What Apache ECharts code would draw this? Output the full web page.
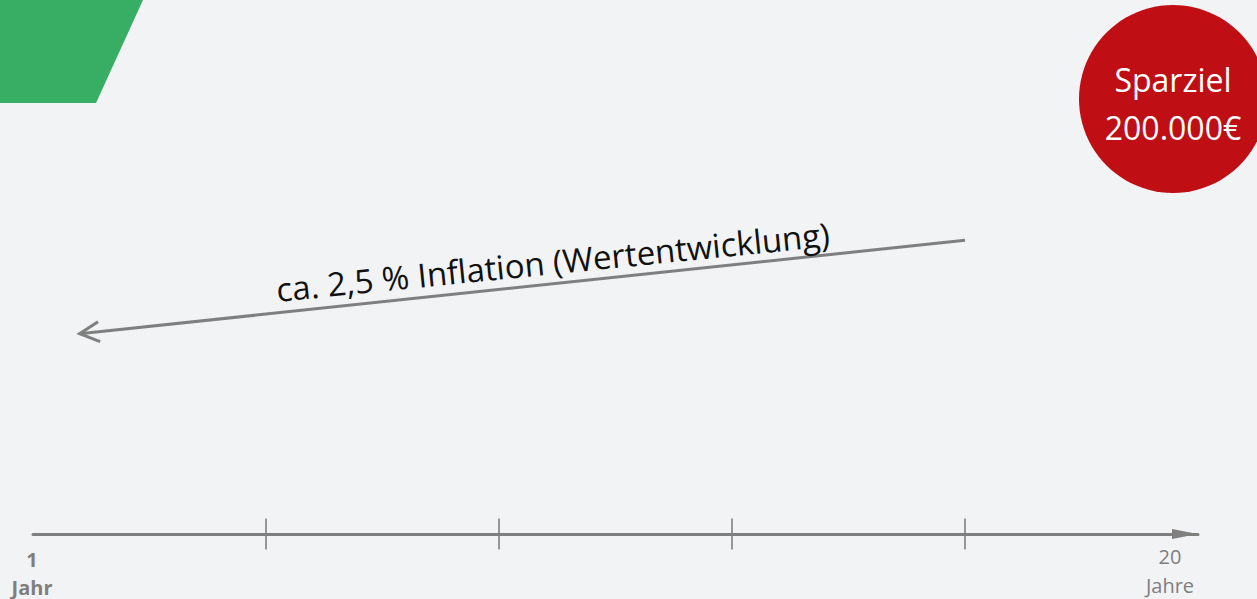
<!DOCTYPE html>
<html>
<head>
<meta charset="utf-8">
<script src="https://cdn.jsdelivr.net/npm/echarts@6/dist/echarts.min.js"></script>
<style>
  html, body { margin: 0; padding: 0; background: #f2f3f5; }
  #chart { width: 1257px; height: 599px; }
</style>
</head>
<body>
<div id="chart"></div>
<script>
// ---- data ----
const timelineSegments = [0, 5];           // timeline runs over 5 equal segments
const tickPositions = [1, 2, 3, 4];        // intermediate markers
const startLabel = ['1', 'Jahr'];
const endLabel = ['20', 'Jahre'];
const inflationArrow = [4, 55, 0.2, 37.5]; // from [x,y] to [x,y] (arrow tip)
const inflationText = 'ca. 2,5 % Inflation (Wertentwicklung)';
const goalText = ['Sparziel', '200.000€'];

const FONT = '"Open Sans", "Noto Sans", sans-serif';
const GREY = '#7f7f7f';

const chart = echarts.init(document.getElementById('chart'), null, { renderer: 'svg' });

chart.setOption({
  backgroundColor: '#f2f3f5',
  animation: false,
  grid: { left: 33, right: 59, top: 0, bottom: 65, containLabel: false },
  xAxis: {
    type: 'value',
    min: timelineSegments[0],
    max: timelineSegments[1],
    interval: 1,
    axisLine: {
      show: true,
      onZero: false,
      symbol: ['none', 'triangle'],
      symbolSize: [10, 26],
      symbolOffset: [0, -13],
      lineStyle: { color: GREY, width: 3 }
    },
    axisTick: { show: false },
    axisLabel: { show: false },
    splitLine: { show: false }
  },
  yAxis: { type: 'value', min: 0, max: 100, show: false },
  graphic: [
    {
      type: 'polygon',
      shape: { points: [[0, 0], [143, 0], [96, 103], [0, 103]] },
      style: { fill: '#37ae64' }
    },
    {
      type: 'circle',
      shape: { cx: 1173, cy: 99, r: 94 },
      style: { fill: '#c00e15' }
    },
    {
      type: 'text', x: 1173, y: 79,
      style: { text: goalText[0], fill: '#ffffff', fontSize: 32, fontFamily: FONT, align: 'center', verticalAlign: 'middle' }
    },
    {
      type: 'text', x: 1173, y: 127,
      style: { text: goalText[1], fill: '#ffffff', fontSize: 32, fontFamily: FONT, align: 'center', verticalAlign: 'middle' }
    }
  ],
  series: [
    {
      type: 'scatter',
      silent: true,
      clip: false,
      symbol: 'rect',
      symbolSize: [2, 31],
      itemStyle: { color: GREY },
      data: tickPositions.map(v => [v, 0])
    },
    {
      type: 'custom',
      silent: true,
      clip: false,
      data: [[timelineSegments[0], 0, startLabel[0], startLabel[1], 0], [timelineSegments[1], 0, endLabel[0], endLabel[1], 1]],
      renderItem(params, api) {
        const p = api.coord([api.value(0), api.value(1)]);
        const isEnd = api.value(4) === 1;
        const dx = isEnd ? -28 : -1;
        const w = isEnd ? 'normal' : 'bold';
        const l1 = isEnd ? endLabel[0] : startLabel[0];
        const l2 = isEnd ? endLabel[1] : startLabel[1];
        return {
          type: 'group',
          children: [
            { type: 'text', x: p[0] + dx, y: p[1] + (isEnd ? 22 : 25),
              style: { text: l1, fill: GREY, fontSize: 20, fontWeight: w, fontFamily: FONT, align: 'center', verticalAlign: 'middle' } },
            { type: 'text', x: p[0] + dx, y: p[1] + (isEnd ? 51 : 53),
              style: { text: l2, fill: GREY, fontSize: 20, fontWeight: w, fontFamily: FONT, align: 'center', verticalAlign: 'middle' } }
          ]
        };
      }
    },
    {
      type: 'custom',
      silent: true,
      clip: false,
      data: [inflationArrow],
      renderItem(params, api) {
        const p1 = api.coord([api.value(0), api.value(1)]);
        const p2 = api.coord([api.value(2), api.value(3)]);
        const dx = p2[0] - p1[0], dy = p2[1] - p1[1];
        const len = Math.hypot(dx, dy);
        const ux = dx / len, uy = dy / len;
        const back = Math.atan2(-uy, -ux);
        const armLen = 22, spread = 27 * Math.PI / 180;
        const a1 = [p2[0] + armLen * Math.cos(back - spread), p2[1] + armLen * Math.sin(back - spread)];
        const a2 = [p2[0] + armLen * Math.cos(back + spread), p2[1] + armLen * Math.sin(back + spread)];
        const cx = -ux, cy = -uy;
        const mid = [(p1[0] + p2[0]) / 2, (p1[1] + p2[1]) / 2];
        const tc = [mid[0] + 33 * cx + 22 * cy, mid[1] + 33 * cy - 22 * cx];
        const rot = Math.atan2(-cy, cx) * 0.95;
        return {
          type: 'group',
          children: [
            { type: 'line', shape: { x1: p1[0], y1: p1[1], x2: p2[0], y2: p2[1] },
              style: { stroke: GREY, lineWidth: 3 } },
            { type: 'polyline', shape: { points: [a1, p2, a2] },
              style: { stroke: GREY, lineWidth: 3, fill: null, lineJoin: 'miter' } },
            { type: 'text', x: tc[0], y: tc[1], rotation: rot,
              style: { text: inflationText, fill: '#111111', fontSize: 33, fontFamily: FONT, align: 'center', verticalAlign: 'middle' } }
          ]
        };
      }
    }
  ]
});
</script>
</body>
</html>
